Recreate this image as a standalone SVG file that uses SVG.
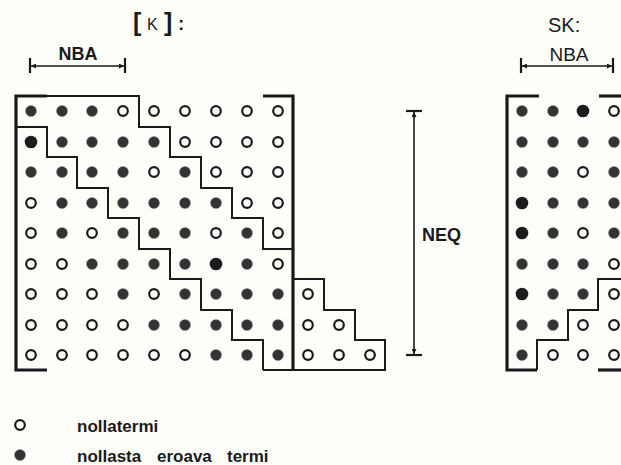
<svg xmlns="http://www.w3.org/2000/svg" width="621" height="465" viewBox="0 0 621 465">
<style>
.o{fill:none;stroke:#1a1a1a;stroke-width:2.2}
.f{fill:#333;stroke:#777;stroke-width:0.8;stroke-opacity:0.5}
.b{fill:#1c1c1c}
.br{fill:none;stroke:#1a1a1a;stroke-width:3.2}
.st{fill:none;stroke:#1a1a1a;stroke-width:2}
.dim{fill:none;stroke:#1a1a1a;stroke-width:1.6}
.tk{fill:none;stroke:#1a1a1a;stroke-width:2.2}
.lab{font-family:"Liberation Sans",Arial,sans-serif;font-size:18px;font-weight:bold;fill:#1a1a1a}
.reg{font-family:"Liberation Sans",Arial,sans-serif;font-size:19px;fill:#1a1a1a}
.leg{font-family:"Liberation Sans",Arial,sans-serif;font-size:17px;font-weight:bold;fill:#1a1a1a}
</style>
<defs>
<marker id="ah" viewBox="0 0 10 10" refX="10" refY="5" markerWidth="7" markerHeight="5" markerUnits="userSpaceOnUse" orient="auto-start-reverse">
<path d="M0,0 L10,5 L0,10 z" fill="#1a1a1a"/>
</marker>
</defs>
<rect width="621" height="465" fill="#fdfdfa"/>

<g id="title-K">
<text class="reg" x="133" y="31" style="font-size:25px;font-weight:bold">[</text>
<text class="reg" x="147" y="30" style="font-size:16px">K</text>
<text class="reg" x="164" y="31" style="font-size:25px;font-weight:bold">]</text>
<text class="reg" x="178" y="30" style="font-size:19px;font-weight:bold">:</text>
</g>

<g id="title-SK">
<text class="reg" x="548" y="32" style="font-size:20px">SK:</text>
</g>

<g id="connectors">
<line class="dim" x1="31" y1="66" x2="124" y2="66" marker-start="url(#ah)" marker-end="url(#ah)"/>
<line class="tk" x1="30" y1="58" x2="30" y2="73"/>
<line class="tk" x1="125" y1="58" x2="125" y2="73"/>
<line class="dim" x1="522" y1="66" x2="612" y2="66" marker-start="url(#ah)" marker-end="url(#ah)"/>
<line class="tk" x1="521" y1="58" x2="521" y2="73"/>
<line class="tk" x1="613" y1="58" x2="613" y2="73"/>
<line class="dim" x1="414" y1="112" x2="414" y2="354" marker-start="url(#ah)" marker-end="url(#ah)"/>
<line class="tk" x1="406" y1="111" x2="422" y2="111"/>
<line class="tk" x1="406" y1="355" x2="422" y2="355"/>
</g>

<g id="label-NBA-left"><text class="lab" x="78" y="60" text-anchor="middle">NBA</text></g>
<g id="label-NBA-right"><text class="lab" x="569" y="61" text-anchor="middle" style="font-weight:normal;font-size:19px">NBA</text></g>
<g id="label-NEQ"><text class="lab" x="422" y="241">NEQ</text></g>

<g id="matrix-K">
<path class="br" d="M47,96 H16 V370 H47"/>
<path class="br" d="M263,96 H293 V370"/>
<path class="st" d="M47,96 H139 V127 H170 V157 H201 V188 H232 V218 H263 V249 H293"/>
<path class="st" d="M16,127 H47 V157 H77 V188 H108 V218 H139 V249 H170 V279 H201 V310 H232 V340 H263 V370"/>
<path class="st" d="M293,279 H324 V310 H355 V340 H385 V370 H263"/>
<circle class="f" cx="31" cy="111" r="5.5"/><circle class="f" cx="62" cy="111" r="5.5"/><circle class="f" cx="92" cy="111" r="5.5"/><circle class="o" cx="123" cy="111" r="4.8"/><circle class="o" cx="154" cy="111" r="4.8"/><circle class="o" cx="185" cy="111" r="4.8"/><circle class="o" cx="216" cy="111" r="4.8"/><circle class="o" cx="247" cy="111" r="4.8"/><circle class="o" cx="278" cy="111" r="4.8"/>
<circle class="b" cx="31" cy="142" r="6.3"/><circle class="f" cx="62" cy="142" r="5.5"/><circle class="f" cx="92" cy="142" r="5.5"/><circle class="f" cx="123" cy="142" r="5.5"/><circle class="f" cx="154" cy="142" r="5.5"/><circle class="o" cx="185" cy="142" r="4.8"/><circle class="o" cx="216" cy="142" r="4.8"/><circle class="o" cx="247" cy="142" r="4.8"/><circle class="o" cx="278" cy="142" r="4.8"/>
<circle class="f" cx="31" cy="172" r="5.5"/><circle class="f" cx="62" cy="172" r="5.5"/><circle class="f" cx="92" cy="172" r="5.5"/><circle class="f" cx="123" cy="172" r="5.5"/><circle class="o" cx="154" cy="172" r="4.8"/><circle class="f" cx="185" cy="172" r="5.5"/><circle class="o" cx="216" cy="172" r="4.8"/><circle class="o" cx="247" cy="172" r="4.8"/><circle class="o" cx="278" cy="172" r="4.8"/>
<circle class="o" cx="31" cy="203" r="4.8"/><circle class="f" cx="62" cy="203" r="5.5"/><circle class="f" cx="92" cy="203" r="5.5"/><circle class="f" cx="123" cy="203" r="5.5"/><circle class="f" cx="154" cy="203" r="5.5"/><circle class="f" cx="185" cy="203" r="5.5"/><circle class="f" cx="216" cy="203" r="5.5"/><circle class="o" cx="247" cy="203" r="4.8"/><circle class="o" cx="278" cy="203" r="4.8"/>
<circle class="o" cx="31" cy="233" r="4.8"/><circle class="f" cx="62" cy="233" r="5.5"/><circle class="o" cx="92" cy="233" r="4.8"/><circle class="f" cx="123" cy="233" r="5.5"/><circle class="f" cx="154" cy="233" r="5.5"/><circle class="f" cx="185" cy="233" r="5.5"/><circle class="o" cx="216" cy="233" r="4.8"/><circle class="f" cx="247" cy="233" r="5.5"/><circle class="o" cx="278" cy="233" r="4.8"/>
<circle class="o" cx="31" cy="264" r="4.8"/><circle class="o" cx="62" cy="264" r="4.8"/><circle class="f" cx="92" cy="264" r="5.5"/><circle class="f" cx="123" cy="264" r="5.5"/><circle class="f" cx="154" cy="264" r="5.5"/><circle class="f" cx="185" cy="264" r="5.5"/><circle class="b" cx="216" cy="264" r="6.3"/><circle class="f" cx="247" cy="264" r="5.5"/><circle class="o" cx="278" cy="264" r="4.8"/>
<circle class="o" cx="31" cy="294" r="4.8"/><circle class="o" cx="62" cy="294" r="4.8"/><circle class="o" cx="92" cy="294" r="4.8"/><circle class="f" cx="123" cy="294" r="5.5"/><circle class="o" cx="154" cy="294" r="4.8"/><circle class="f" cx="185" cy="294" r="5.5"/><circle class="f" cx="216" cy="294" r="5.5"/><circle class="f" cx="247" cy="294" r="5.5"/><circle class="f" cx="278" cy="294" r="5.5"/><circle class="o" cx="308" cy="294" r="4.8"/>
<circle class="o" cx="31" cy="325" r="4.8"/><circle class="o" cx="62" cy="325" r="4.8"/><circle class="o" cx="92" cy="325" r="4.8"/><circle class="o" cx="123" cy="325" r="4.8"/><circle class="f" cx="154" cy="325" r="5.5"/><circle class="f" cx="185" cy="325" r="5.5"/><circle class="f" cx="216" cy="325" r="5.5"/><circle class="f" cx="247" cy="325" r="5.5"/><circle class="f" cx="278" cy="325" r="5.5"/><circle class="o" cx="308" cy="325" r="4.8"/><circle class="o" cx="339" cy="325" r="4.8"/>
<circle class="o" cx="31" cy="355" r="4.8"/><circle class="o" cx="62" cy="355" r="4.8"/><circle class="o" cx="92" cy="355" r="4.8"/><circle class="o" cx="123" cy="355" r="4.8"/><circle class="o" cx="154" cy="355" r="4.8"/><circle class="o" cx="185" cy="355" r="4.8"/><circle class="f" cx="216" cy="355" r="5.5"/><circle class="f" cx="247" cy="355" r="5.5"/><circle class="f" cx="278" cy="355" r="5.5"/><circle class="o" cx="308" cy="355" r="4.8"/><circle class="o" cx="339" cy="355" r="4.8"/><circle class="o" cx="370" cy="355" r="4.8"/>
</g>

<g id="matrix-SK">
<path class="br" d="M539,96 H507 V370 H537"/>
<path class="br" d="M599,96 H625"/>
<path class="st" d="M537,370 V340 H568 V310 H598 V279 H625"/>
<path class="br" d="M598,370 H625"/>
<circle class="f" cx="522" cy="111" r="5.5"/><circle class="f" cx="553" cy="111" r="5.5"/><circle class="b" cx="583" cy="111" r="6.3"/><circle class="o" cx="614" cy="111" r="4.8"/>
<circle class="f" cx="522" cy="142" r="5.5"/><circle class="f" cx="553" cy="142" r="5.5"/><circle class="f" cx="583" cy="142" r="5.5"/><circle class="f" cx="614" cy="142" r="5.5"/>
<circle class="f" cx="522" cy="172" r="5.5"/><circle class="f" cx="553" cy="172" r="5.5"/><circle class="o" cx="583" cy="172" r="4.8"/><circle class="f" cx="614" cy="172" r="5.5"/>
<circle class="b" cx="522" cy="203" r="6.3"/><circle class="f" cx="553" cy="203" r="5.5"/><circle class="f" cx="583" cy="203" r="5.5"/><circle class="f" cx="614" cy="203" r="5.5"/>
<circle class="b" cx="522" cy="233" r="6.3"/><circle class="f" cx="553" cy="233" r="5.5"/><circle class="o" cx="583" cy="233" r="4.8"/><circle class="f" cx="614" cy="233" r="5.5"/>
<circle class="f" cx="522" cy="264" r="5.5"/><circle class="f" cx="553" cy="264" r="5.5"/><circle class="f" cx="583" cy="264" r="5.5"/><circle class="o" cx="614" cy="264" r="4.8"/>
<circle class="b" cx="522" cy="294" r="6.3"/><circle class="f" cx="553" cy="294" r="5.5"/><circle class="f" cx="583" cy="294" r="5.5"/><circle class="o" cx="614" cy="294" r="4.8"/>
<circle class="f" cx="522" cy="325" r="5.5"/><circle class="f" cx="553" cy="325" r="5.5"/><circle class="o" cx="583" cy="325" r="4.8"/><circle class="o" cx="614" cy="325" r="4.8"/>
<circle class="f" cx="522" cy="355" r="5.5"/><circle class="o" cx="553" cy="355" r="4.8"/><circle class="o" cx="583" cy="355" r="4.8"/><circle class="o" cx="614" cy="355" r="4.8"/>
</g>

<g id="legend">
<circle class="o" cx="20" cy="425" r="4.8"/>
<text class="leg" x="77" y="432">nollatermi</text>
<circle class="f" cx="20" cy="455" r="5.5"/>
<text class="leg" x="77" y="462">nollasta</text>
<text class="leg" x="157" y="462">eroava</text>
<text class="leg" x="227" y="462">termi</text>
</g>
</svg>
